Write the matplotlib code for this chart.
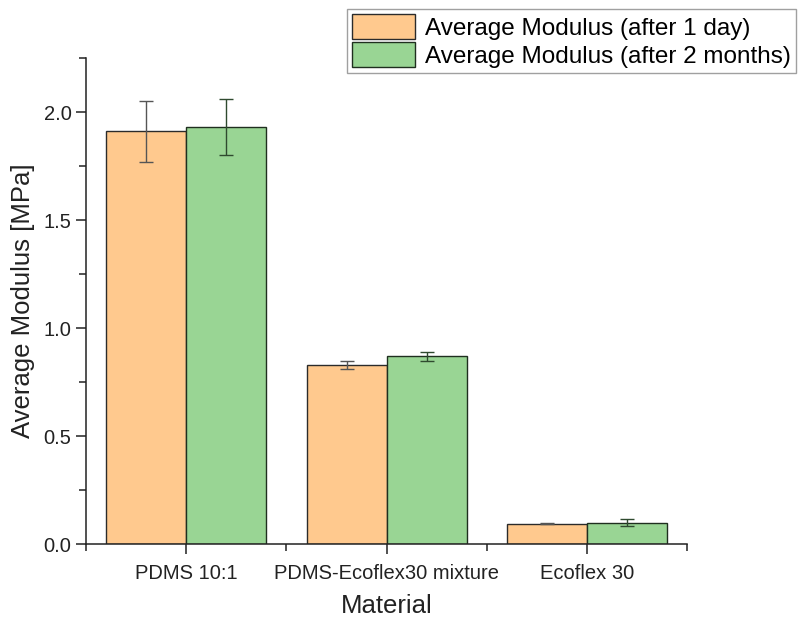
# grafico de barras do modulo medio por material (1 dia vs 2 meses)
import matplotlib
matplotlib.use('Agg')
import matplotlib.pyplot as plt
import numpy as np
from matplotlib.ticker import MultipleLocator, FixedLocator

materiais = ['PDMS 10:1', 'PDMS-Ecoflex30 mixture', 'Ecoflex 30']
modulo_1dia = [1.91, 0.83, 0.095]
erro_1dia = [0.14, 0.02, 0.003]
modulo_2meses = [1.93, 0.87, 0.10]
erro_2meses = [0.13, 0.02, 0.015]

plt.rcParams['font.family'] = ['Liberation Sans', 'DejaVu Sans']

fig = plt.figure(figsize=(7.98, 6.17), dpi=100)
ax = fig.add_axes([0.108, 0.118, 0.753, 0.788])

x = np.arange(1, len(materiais) + 1)
largura = 0.4

b1 = ax.bar(x - largura / 2, modulo_1dia, largura, color='#FFC98E',
            edgecolor='#2b2b2b', linewidth=1.0,
            label='Average Modulus (after 1 day)')
b2 = ax.bar(x + largura / 2, modulo_2meses, largura, color='#99D594',
            edgecolor='#1f2f1f', linewidth=1.0,
            label='Average Modulus (after 2 months)')
ax.errorbar(x - largura / 2, modulo_1dia, yerr=erro_1dia, fmt='none',
            ecolor='#555555', elinewidth=1.0, capsize=5, capthick=1.0)
ax.errorbar(x + largura / 2, modulo_2meses, yerr=erro_2meses, fmt='none',
            ecolor='#2f4a2f', elinewidth=1.0, capsize=5, capthick=1.0)

ax.set_xlim(0.5, 3.5)
ax.set_ylim(0, 2.25)
ax.set_xticks(x)
ax.set_xticklabels(materiais, fontsize=14.5, color='#222222')
ax.xaxis.set_minor_locator(FixedLocator([0.5, 1.5, 2.5, 3.5]))
ax.yaxis.set_major_locator(MultipleLocator(0.5))
ax.yaxis.set_minor_locator(MultipleLocator(0.25))
ax.set_yticks([0.0, 0.5, 1.0, 1.5, 2.0])
ax.set_yticklabels(['0.0', '0.5', '1.0', '1.5', '2.0'], fontsize=14.5, color='#222222')

for s in ['top', 'right']:
    ax.spines[s].set_visible(False)
for s in ['left', 'bottom']:
    ax.spines[s].set_linewidth(1.1)
    ax.spines[s].set_color('#222222')
ax.tick_params(which='major', direction='out', length=7, width=1.1, color='#222222')
ax.tick_params(axis='x', which='major', pad=7)
ax.tick_params(which='minor', direction='out', length=5, width=1.1, color='#222222')

ax.set_xlabel('Material', fontsize=18.5, color='#222222', labelpad=8)
ax.set_ylabel('Average Modulus [MPa]', fontsize=18.5, color='#222222', labelpad=6)

leg = fig.legend(handles=[b1, b2], loc='upper right',
                 bbox_to_anchor=(0.997, 0.985), fontsize=17.5,
                 frameon=True, fancybox=False, edgecolor='#888888',
                 handlelength=2.6, handleheight=1.2, handletextpad=0.4,
                 borderpad=0.2, labelspacing=0.1, borderaxespad=0)
leg.get_frame().set_linewidth(1.0)

plt.savefig('out.png', dpi=100)
plt.close()
